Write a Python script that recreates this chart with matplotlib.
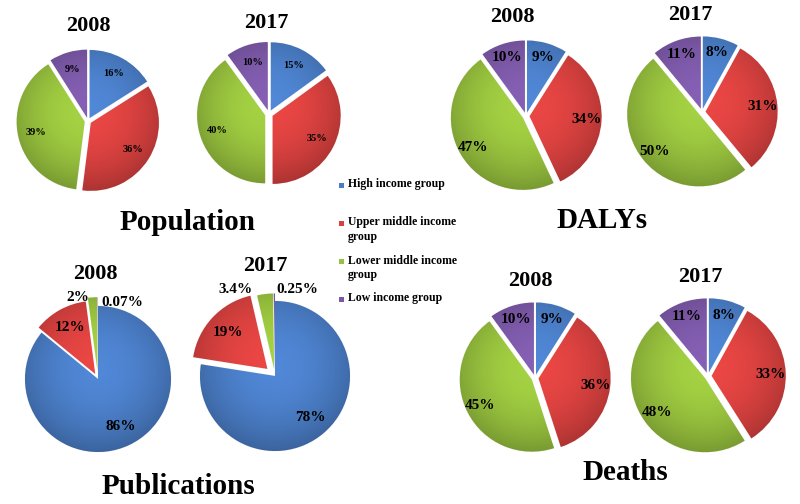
import numpy as np
import matplotlib
matplotlib.use('Agg')
import matplotlib.pyplot as plt
from matplotlib.patches import Rectangle

plt.rcParams['font.family'] = ['Liberation Serif', 'DejaVu Serif']
plt.rcParams['font.weight'] = 'bold'

# data
groups = ['High income group', 'Upper middle income\ngroup',
          'Lower middle income\ngroup', 'Low income group']
colors = ['#4A7DC6', '#D8413F', '#98C23E', '#7B58A6']

population_2008 = [16, 36, 39, 9]
population_2017 = [15, 35, 40, 10]
dalys_2008 = [9, 34, 47, 10]
dalys_2017 = [8, 31, 50, 11]
publications_2008 = [86, 12, 2, 0.07]
publications_2017 = [78, 19, 3.4, 0.25]
deaths_2008 = [9, 36, 45, 10]
deaths_2017 = [8, 33, 48, 11]

pop_labels_2008 = ['16%', '36%', '39%', '9%']
pop_labels_2017 = ['15%', '35%', '40%', '10%']
dalys_labels_2008 = ['9%', '34%', '47%', '10%']
dalys_labels_2017 = ['8%', '31%', '50%', '11%']
pub_labels_2008 = ['86%', '12%', '2%', '0.07%']
pub_labels_2017 = ['78%', '19%', '3.4%', '0.25%']
deaths_labels_2008 = ['9%', '36%', '45%', '10%']
deaths_labels_2017 = ['8%', '33%', '48%', '11%']

H = 504
fig = plt.figure(figsize=(8, 5.04), dpi=100)
ax = fig.add_axes([0, 0, 1, 1])


def shade_wedges(wedges, r):
    # fake the office-style gradient: darker towards the rim and the bottom
    n = 120
    xs = np.linspace(-1.05, 1.05, n)
    X, Y = np.meshgrid(xs, xs[::-1])
    R = np.sqrt(X ** 2 + Y ** 2)
    shade = 1.08 - 0.22 * np.clip(R, 0, 1.05) ** 2 - 0.06 * (-Y)
    for w in wedges:
        cx, cy = w.center
        base = np.array(matplotlib.colors.to_rgb(w.get_facecolor()))
        img = np.clip(base[None, None, :] * shade[:, :, None], 0, 1)
        ext = [cx - 1.05 * r, cx + 1.05 * r, cy - 1.05 * r, cy + 1.05 * r]
        im = ax.imshow(img, extent=ext, zorder=2, interpolation='bilinear')
        im.set_clip_path(w)


def draw_pie(values, labels, cx, py, r, explode, fs, ldist=0.74,
             outside=None):
    cy = H - py
    wedges, texts = ax.pie(values, colors=colors, startangle=90,
                           counterclock=False, center=(cx, cy), radius=r,
                           explode=[e * r for e in explode], labels=labels,
                           labeldistance=ldist, frame=True,
                           wedgeprops=dict(edgecolor='#f4f4f4', linewidth=0.6),
                           textprops=dict(fontsize=fs, fontweight='bold',
                                          ha='center', va='center'))
    for t in texts:
        t.set_zorder(4)
        t.set_horizontalalignment('center')
    shade_wedges(wedges, r)
    if outside:
        # tiny slices get their label pushed outside, turned a bit sideways
        for i, (dang, dist) in outside.items():
            w = wedges[i]
            ang = np.deg2rad((w.theta1 + w.theta2) / 2 + dang)
            ox, oy = w.center
            texts[i].set_position((ox + dist * r * np.cos(ang),
                                   oy + dist * r * np.sin(ang)))
    return wedges


def title(s, x, py, fs):
    ax.text(x, H - py, s, fontsize=fs, fontweight='bold', ha='center',
            va='center', zorder=5)


ex = [0.05, 0.05, 0.05, 0.05]

# Population
draw_pie(population_2008, pop_labels_2008, 88, 121, 68, ex, 7.5)
draw_pie(population_2017, pop_labels_2017, 269, 114, 68, [0.06] * 4, 7.5)
title('2008', 88, 26, 16)
title('2017', 266, 23, 16)
title('Population', 188, 222, 21)

# DALYs
draw_pie(dalys_2008, dalys_labels_2008, 526, 116, 72, ex, 11, ldist=0.8)
draw_pie(dalys_2017, dalys_labels_2017, 702, 112, 72, ex, 11, ldist=0.8)
title('2008', 512, 17, 16)
title('2017', 690, 15, 16)
title('DALYs', 602, 220, 21)

# Publications
draw_pie(publications_2008, pub_labels_2008, 98, 379, 73,
         [0, 0.08, 0.12, 0.12], 11, ldist=0.72,
         outside={2: (11.5, 1.03), 3: (-19.5, 0.99)})
draw_pie(publications_2017, pub_labels_2017, 275, 376, 75,
         [0, 0.14, 0.1, 0.1], 11, ldist=0.72,
         outside={2: (19.4, 1.17), 3: (-16.2, 1.09)})
title('2008', 95, 274, 16)
title('2017', 265, 266, 16)
title('Publications', 178, 486, 21)

# Deaths
draw_pie(deaths_2008, deaths_labels_2008, 535, 378, 72, ex, 11, ldist=0.8)
draw_pie(deaths_2017, deaths_labels_2017, 708, 376, 74, ex, 11, ldist=0.8)
title('2008', 530, 281, 16)
title('2017', 700, 277, 16)
title('Deaths', 625, 473, 21)

# legend
leg_y = [185, 223, 261, 299]
for g, c, y in zip(groups, colors, leg_y):
    ax.add_patch(Rectangle((339, H - y - 2.5), 5, 5, facecolor=c,
                           edgecolor='none', zorder=5))
    ax.text(348, H - y + 6.5, g, fontsize=8.5, fontweight='bold', ha='left',
            va='top', linespacing=1.25, zorder=5)

ax.set_xlim(0, 800)
ax.set_ylim(0, H)
ax.set_aspect('auto')
ax.axis('off')

plt.savefig('out.png', dpi=100)
